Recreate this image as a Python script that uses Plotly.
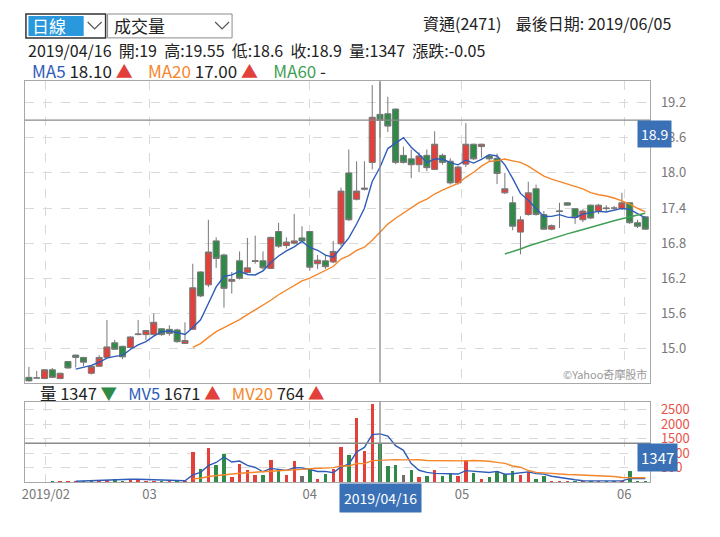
import plotly.graph_objects as go
import pandas as pd

# ---------------- data ----------------
dates = ["2019/01/28", "2019/01/29", "2019/01/30",
         "2019/02/11", "2019/02/12", "2019/02/13", "2019/02/14", "2019/02/15",
         "2019/02/18", "2019/02/19", "2019/02/20", "2019/02/21", "2019/02/22",
         "2019/02/25", "2019/02/26", "2019/02/27",
         "2019/03/04", "2019/03/05", "2019/03/06", "2019/03/07", "2019/03/08",
         "2019/03/11", "2019/03/12", "2019/03/13", "2019/03/14", "2019/03/15",
         "2019/03/18", "2019/03/19", "2019/03/20", "2019/03/21", "2019/03/22",
         "2019/03/25", "2019/03/26", "2019/03/27", "2019/03/28", "2019/03/29",
         "2019/04/01", "2019/04/02", "2019/04/03", "2019/04/08", "2019/04/09",
         "2019/04/10", "2019/04/11", "2019/04/12", "2019/04/15", "2019/04/16",
         "2019/04/17", "2019/04/18", "2019/04/19", "2019/04/22", "2019/04/23",
         "2019/04/24", "2019/04/25", "2019/04/26", "2019/04/29", "2019/04/30",
         "2019/05/02", "2019/05/03", "2019/05/06", "2019/05/07", "2019/05/08",
         "2019/05/09", "2019/05/10", "2019/05/13", "2019/05/14", "2019/05/15",
         "2019/05/16", "2019/05/17", "2019/05/20", "2019/05/21", "2019/05/22",
         "2019/05/23", "2019/05/24", "2019/05/27", "2019/05/28", "2019/05/29",
         "2019/05/30", "2019/06/03", "2019/06/04", "2019/06/05"]

open_ = [14.51, 14.50, 14.49, 14.64, 14.49, 14.78, 14.89, 14.85, 14.58, 14.70,
         14.85, 15.10, 15.04, 15.02, 15.24, 15.24, 15.24, 15.34, 15.33, 15.32,
         15.09, 15.33, 16.31, 16.09, 16.84, 16.60, 16.15, 16.50, 16.30, 16.49,
         16.50, 16.37, 17.00, 16.76, 16.80, 16.89, 17.00, 16.45, 16.50, 16.48,
         16.79, 18.00, 17.55, 17.72, 18.18, 19.00, 19.01, 19.09, 18.30, 18.24,
         18.14, 18.30, 18.06, 18.30, 18.20, 17.83, 18.15, 18.49, 18.45, 18.29,
         18.25, 17.66, 17.49, 16.99, 17.29, 17.73, 17.29, 17.04, 17.34, 17.49,
         17.39, 17.20, 17.45, 17.35, 17.39, 17.40, 17.39, 17.49, 17.15, 17.25]

high_ = [14.69, 14.62, 14.65, 14.67, 14.59, 14.79, 14.90, 14.86, 14.71, 14.89,
         15.49, 15.15, 15.05, 15.21, 15.49, 15.32, 15.60, 15.35, 15.40, 15.34,
         15.45, 16.45, 16.32, 17.20, 16.90, 16.62, 16.31, 16.66, 16.89, 16.93,
         16.66, 16.91, 17.15, 16.90, 17.30, 17.09, 17.01, 16.60, 16.60, 16.84,
         17.75, 18.40, 18.20, 18.20, 19.50, 19.55, 19.30, 19.10, 18.45, 18.40,
         18.35, 18.40, 18.71, 18.33, 18.25, 18.12, 18.85, 18.50, 18.50, 18.31,
         18.33, 18.00, 17.60, 17.26, 17.85, 17.80, 17.35, 17.12, 17.49, 17.50,
         17.40, 17.38, 17.46, 17.47, 17.45, 17.44, 17.66, 17.50, 17.20, 17.26]

low_ = [14.44, 14.49, 14.48, 14.50, 14.48, 14.66, 14.68, 14.70, 14.56, 14.69,
        14.84, 14.98, 14.82, 15.00, 15.23, 15.15, 15.23, 15.22, 15.22, 15.10,
        15.08, 15.33, 15.88, 16.05, 16.38, 15.70, 15.94, 16.18, 16.28, 16.45,
        16.35, 16.36, 16.72, 16.71, 16.78, 16.83, 16.33, 16.36, 16.36, 16.46,
        16.75, 17.18, 17.53, 17.70, 18.06, 18.60, 18.70, 18.15, 18.16, 17.91,
        18.01, 18.03, 18.05, 18.14, 17.80, 17.80, 18.10, 18.22, 18.26, 18.20,
        17.81, 17.64, 17.02, 16.61, 17.27, 17.27, 17.03, 17.02, 17.06, 17.44,
        17.13, 17.16, 17.21, 17.30, 17.35, 17.36, 17.37, 17.13, 17.06, 17.03]

close_ = [14.45, 14.50, 14.64, 14.51, 14.58, 14.67, 14.85, 14.77, 14.70, 14.85,
          15.03, 14.99, 14.86, 15.20, 15.25, 15.31, 15.45, 15.24, 15.26, 15.12,
          15.14, 16.04, 15.90, 16.65, 16.54, 16.03, 16.18, 16.20, 16.38, 16.50,
          16.38, 16.90, 16.75, 16.82, 16.84, 16.84, 16.39, 16.51, 16.40, 16.66,
          17.69, 17.20, 17.69, 17.74, 18.95, 18.90, 18.80, 18.18, 18.18, 18.14,
          18.29, 18.09, 18.49, 18.18, 17.83, 18.10, 18.49, 18.24, 18.49, 18.24,
          17.99, 17.73, 17.09, 17.20, 17.66, 17.29, 17.04, 17.10, 17.35, 17.45,
          17.24, 17.35, 17.23, 17.45, 17.40, 17.40, 17.49, 17.15, 17.09, 17.04]

volume = [20, 8, 12, 25, 30, 45, 60, 70, 85, 90,
          110, 120, 70, 110, 110, 60, 50, 40, 45, 70,
          50, 1070, 465, 1210, 614, 1003, 195, 640, 450, 260,
          260, 780, 480, 260, 740, 220, 490, 135, 290, 490,
          1230, 960, 2250, 1090, 2710, 1347, 580, 600, 270, 425,
          185, 220, 425, 220, 330, 220, 800, 340, 125, 185,
          420, 305, 420, 255, 385, 125, 220, 50, 45, 60,
          40, 55, 40, 60, 30, 35, 70, 420, 40, 50]

month_labels = ["2019/02", "03", "04", "05", "06"]
month_ticks = [2.17, 15.44, 36.0, 55.5, 76.3]
price_ticks = [15.0, 15.6, 16.2, 16.8, 17.4, 18.0, 18.6, 19.2]
vol_ticks = [500, 1000, 1500, 2000, 2500]

stock_name = "資通(2471)"
last_date = "2019/06/05"
selected = "2019/04/16"

# ---------------- derived ----------------
PAGE_OFF = 8                     # the page's default body margin
W, H = 720 - PAGE_OFF, 537 - PAGE_OFF
n = len(dates)
idx = list(range(n))
sel = dates.index(selected)

RED, GREEN, GRAY = "#e2403b", "#2f8a48", "#6e6e6e"
BLUE, ORANGE, MGREEN = "#2f5cb8", "#f5862a", "#3f9f57"
BOX = "#3a70b6"
FONT = "Noto Sans CJK TC"

s_close = pd.Series(close_)
s_vol = pd.Series(volume)
# the site's averages only start from the third session shown
mask = s_close.index >= 2
ma5 = s_close.where(mask).rolling(5).mean()
ma20 = s_close.where(mask).rolling(20).mean()
ma60 = s_close.where(mask).rolling(60).mean()
mv5 = s_vol.where(mask).rolling(5).mean()
mv20 = s_vol.where(mask).rolling(20).mean()

vol_colors = []
for i in idx:
    ref = close_[i - 1] if i > 0 else open_[i]
    if close_[i] > ref:
        vol_colors.append(RED)
    elif close_[i] < ref:
        vol_colors.append(GREEN)
    else:
        vol_colors.append(GRAY)


def px(x):
    return (x - PAGE_OFF) / W


def py(y):
    return 1 - (y - PAGE_OFF) / H


fig = go.Figure()

fig.add_trace(go.Candlestick(
    x=idx, open=open_, high=high_, low=low_, close=close_,
    increasing=dict(fillcolor=RED, line=dict(color="#777777", width=1)),
    decreasing=dict(fillcolor=GREEN, line=dict(color="#777777", width=1)),
    whiskerwidth=0, xaxis="x", yaxis="y", showlegend=False,
    customdata=dates,
))
fig.add_trace(go.Scatter(x=idx, y=ma5, mode="lines", line=dict(color=BLUE, width=1.4),
                         xaxis="x", yaxis="y", showlegend=False))
fig.add_trace(go.Scatter(x=idx, y=ma20, mode="lines", line=dict(color=ORANGE, width=1.4),
                         xaxis="x", yaxis="y", showlegend=False))
fig.add_trace(go.Scatter(x=idx, y=ma60, mode="lines", line=dict(color=MGREEN, width=1.4),
                         xaxis="x", yaxis="y", showlegend=False))

fig.add_trace(go.Bar(x=idx, y=volume, marker=dict(color=vol_colors, line=dict(width=0)),
                     width=0.45, xaxis="x2", yaxis="y2", showlegend=False))
fig.add_trace(go.Scatter(x=idx, y=mv5, mode="lines", line=dict(color=BLUE, width=1.4),
                         xaxis="x2", yaxis="y2", showlegend=False))
fig.add_trace(go.Scatter(x=idx, y=mv20, mode="lines", line=dict(color=ORANGE, width=1.4),
                         xaxis="x2", yaxis="y2", showlegend=False))

xdom = [px(22), px(650)]
xrange_ = [-0.51, 79.64]
grid = dict(showgrid=True, gridcolor="#d9d9d9", griddash="dash", gridwidth=1)
axline = dict(showline=True, linecolor="#a8a8a8", linewidth=1, mirror=True, zeroline=False)

fig.update_layout(
    width=W, height=H, margin=dict(l=0, r=0, t=0, b=0),
    paper_bgcolor="white", plot_bgcolor="white",
    font=dict(family=FONT, color="#222"),
    bargap=0, boxgap=0.12, boxgroupgap=0.12,
    xaxis=dict(domain=xdom, range=xrange_, tickvals=month_ticks, showticklabels=False,
               ticks="", rangeslider=dict(visible=False), anchor="y", **grid, **axline),
    yaxis=dict(domain=[py(382), py(79)], range=[14.421, 19.574], side="right",
               tickvals=price_ticks, tickformat=".1f", ticks="", ticklabelstandoff=7,
               tickfont=dict(size=13, color="#777"), anchor="x", **grid, **axline),
    xaxis2=dict(domain=xdom, range=xrange_, tickvals=month_ticks, ticktext=month_labels,
                ticks="", tickfont=dict(size=13, color="#777"), anchor="y2",
                matches="x", **grid, **axline),
    yaxis2=dict(domain=[py(482), py(401)], range=[0, 2790], side="right",
                tickvals=vol_ticks, ticks="", ticklabelstandoff=7,
                tickfont=dict(size=13, color="#e8524a"), anchor="x2", **grid, **axline),
)

shapes = []
# crosshair
shapes.append(dict(type="line", xref="x", yref="y domain", x0=sel, x1=sel, y0=0, y1=1,
                   line=dict(color="#8a8a8a", width=1.3)))
shapes.append(dict(type="line", xref="x2", yref="y2 domain", x0=sel, x1=sel, y0=0, y1=1,
                   line=dict(color="#8a8a8a", width=1.3)))
shapes.append(dict(type="line", xref="x domain", yref="y", x0=0, x1=1,
                   y0=close_[sel], y1=close_[sel], line=dict(color="#8a8a8a", width=1.3)))
shapes.append(dict(type="line", xref="x2 domain", yref="y2", x0=0, x1=1,
                   y0=volume[sel], y1=volume[sel], line=dict(color="#8a8a8a", width=1.3)))
# selector boxes
shapes.append(dict(type="rect", xref="paper", yref="paper", x0=px(23), x1=px(103),
                   y0=py(36), y1=py(12), line=dict(color="#333", width=1.5), fillcolor="white"))
shapes.append(dict(type="rect", xref="paper", yref="paper", x0=px(25.5), x1=px(81),
                   y0=py(34), y1=py(14), line=dict(width=0), fillcolor="#2a98dc"))
shapes.append(dict(type="rect", xref="paper", yref="paper", x0=px(105), x1=px(230),
                   y0=py(36), y1=py(12), line=dict(color="#8a8a8a", width=1), fillcolor="white"))
for cx in (92, 220):
    shapes.append(dict(type="path", xref="paper", yref="paper",
                       path=f"M {px(cx-7)},{py(20)} L {px(cx)},{py(27)} L {px(cx+7)},{py(20)}",
                       line=dict(color="#555", width=1.2)))
fig.update_layout(shapes=shapes)


def fmt(v):
    return f"{v:g}"


chg = close_[sel] - close_[sel - 1]
up = f'<span style="color:{RED}">▲</span>'
dn = f'<span style="color:{GREEN}">▼</span>'


def arrow(cur, prev):
    return up if cur >= prev else dn


sp2 = "\u00a0\u00a0"
sp3 = "\u00a0" * 3
sp4 = "\u00a0" * 4
line2 = sp2.join([selected, f"開:{fmt(open_[sel])}", f"高:{fmt(high_[sel])}",
                  f"低:{fmt(low_[sel])}", f"收:{fmt(close_[sel])}", f"量:{volume[sel]}",
                  f"漲跌:{chg:.2f}"])
ma60_txt = "-" if pd.isna(ma60[sel]) else f"{ma60[sel]:.2f}"
line3 = (f'<span style="color:{BLUE}">MA5</span> {ma5[sel]:.2f} {arrow(ma5[sel], ma5[sel-1])}{sp4}'
         f'<span style="color:{ORANGE}">MA20</span> {ma20[sel]:.2f} {arrow(ma20[sel], ma20[sel-1])}{sp4}'
         f'<span style="color:{MGREEN}">MA60</span> {ma60_txt}')
vline = (f'量 {volume[sel]} {arrow(volume[sel], volume[sel-1])}{sp3}'
         f'<span style="color:{BLUE}">MV5</span> {round(mv5[sel])} {arrow(mv5[sel], mv5[sel-1])}{sp3}'
         f'<span style="color:{ORANGE}">MV20</span> {round(mv20[sel])} {arrow(mv20[sel], mv20[sel-1])}')

ann = [
    dict(text="日線", x=px(27), y=py(24), xanchor="left", yanchor="middle",
         font=dict(size=17, color="white")),
    dict(text="成交量", x=px(109), y=py(24), xanchor="left", yanchor="middle",
         font=dict(size=17, color="#222")),
    dict(text=f"{stock_name}{sp4}最後日期: {last_date}", x=px(673), y=py(21), xanchor="right",
         yanchor="middle", font=dict(size=16, color="#222")),
    dict(text=line2, x=px(23), y=py(48), xanchor="left", yanchor="middle",
         font=dict(size=16, color="#222")),
    dict(text=line3, x=px(27), y=py(69), xanchor="left", yanchor="middle",
         font=dict(size=17, color="#222")),
    dict(text=vline, x=px(35), y=py(392), xanchor="left", yanchor="middle",
         font=dict(size=16.5, color="#222")),
    dict(text="©Yahoo奇摩股市", x=px(649), y=py(373), xanchor="right", yanchor="middle",
         font=dict(size=11, color="#999")),
]
for a in ann:
    a.update(xref="paper", yref="paper", showarrow=False)

ann.append(dict(text=fmt(close_[sel]), xref="paper", x=px(637), yref="y", y=close_[sel],
                xanchor="left", yanchor="top", showarrow=False, bgcolor=BOX, borderpad=3,
                font=dict(size=14, color="white")))
ann.append(dict(text=str(volume[sel]), xref="paper", x=px(637), yref="y2", y=volume[sel],
                xanchor="left", yanchor="top", showarrow=False, bgcolor=BOX, borderpad=3,
                font=dict(size=15, color="white")))
ann.append(dict(text=selected, xref="x2", x=sel, yref="paper", y=py(483),
                xanchor="center", yanchor="top", showarrow=False, bgcolor=BOX, borderpad=4,
                font=dict(size=14, color="white")))
fig.update_layout(annotations=ann)

fig.write_html("out.html")
